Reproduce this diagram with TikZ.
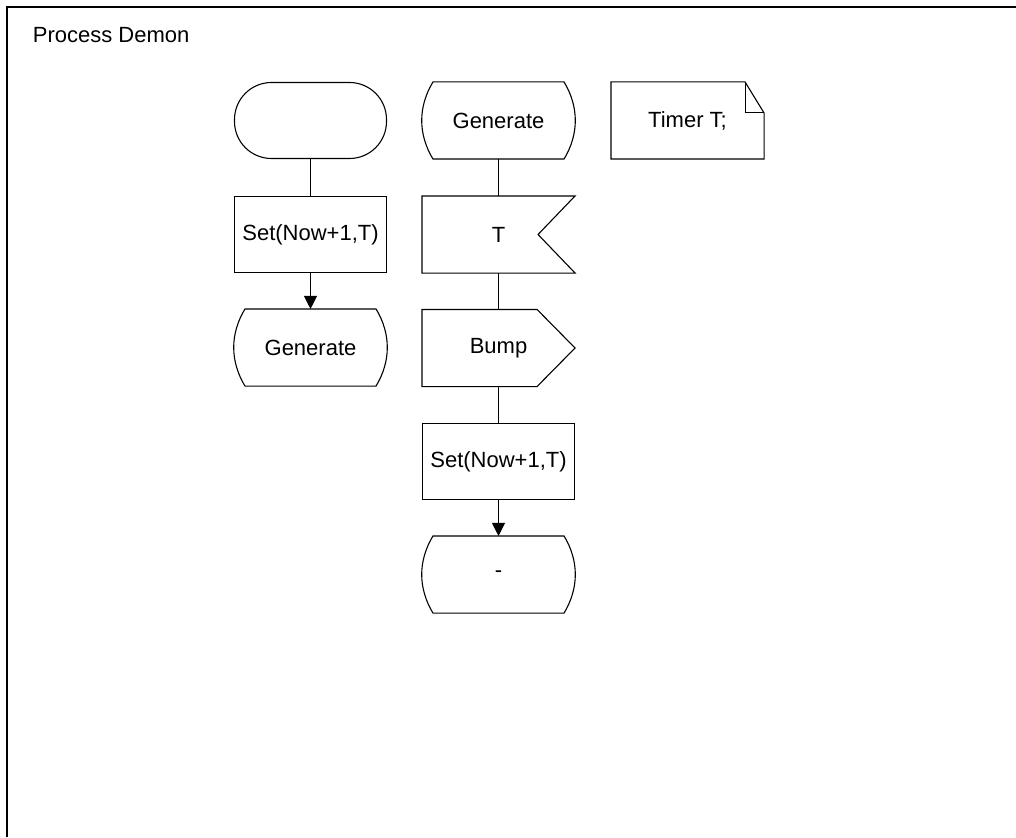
\documentclass[tikz,border=0pt]{standalone}
\usepackage{fontspec}
\setmainfont{Liberation Sans}
\usetikzlibrary{arrows.meta}

\begin{document}
\begin{tikzpicture}
[
x=1pt,y=-1pt,
line width=1.1pt,
every node/.style={font=\fontsize{22}{26}\selectfont},
sdlbox/.style={minimum width=152pt,minimum height=76pt,inner sep=0pt},
terminal/.style={sdlbox,draw,rounded corners=37pt},
task/.style={sdlbox,draw},
state/.style={sdlbox,append after command={\pgfextra{
   \draw ([xshift=11pt]\tikzlastnode.north west) -- ([xshift=-11pt]\tikzlastnode.north east)
     .. controls ([xshift=4pt,yshift=-25pt]\tikzlastnode.north east) and ([xshift=4pt,yshift=25pt]\tikzlastnode.south east) .. ([xshift=-11pt]\tikzlastnode.south east)
     -- ([xshift=11pt]\tikzlastnode.south west)
     .. controls ([xshift=-4pt,yshift=25pt]\tikzlastnode.south west) and ([xshift=-4pt,yshift=-25pt]\tikzlastnode.north west) .. cycle;}}},
insig/.style={sdlbox,append after command={\pgfextra{
   \draw (\tikzlastnode.north west) -- (\tikzlastnode.north east) -- ([xshift=-37pt]\tikzlastnode.east)
     -- (\tikzlastnode.south east) -- (\tikzlastnode.south west) -- cycle;}}},
outsig/.style={sdlbox,append after command={\pgfextra{
   \draw (\tikzlastnode.north west) -- ([xshift=-38pt]\tikzlastnode.north east) -- (\tikzlastnode.east)
     -- ([xshift=-38pt]\tikzlastnode.south east) -- (\tikzlastnode.south west) -- cycle;}}},
textsym/.style={sdlbox,append after command={\pgfextra{
   \draw (\tikzlastnode.north west) -- ([xshift=-19pt]\tikzlastnode.north east) -- ([yshift=-31pt]\tikzlastnode.north east)
     -- (\tikzlastnode.south east) -- (\tikzlastnode.south west) -- cycle;
   \draw ([xshift=-19pt]\tikzlastnode.north east) -- ([xshift=-19pt,yshift=-31pt]\tikzlastnode.north east)
     -- ([yshift=-31pt]\tikzlastnode.north east);}}},
flow/.style={-{Triangle[length=13pt,width=13pt]}},
]
\useasboundingbox (0,0) rectangle (1016,837);

%Frame and title
\draw (1016,7) -- (7,7) -- (7,837);
\node[anchor=base west] (title) at (29,43) {Process Demon};

%Start branch
\node[terminal] (start) at (310.5,120.5) {};
\node[task] (set1) at (310.5,234.5) {Set(Now+1,T)};
\node[state] (gen1) at (310.5,347.5) {Generate};

%Generate state
\node[state] (gen2) at (498.5,120.5) {Generate};
\node[textsym] (timer) at (687.5,120.5) {Timer T;};
\node[insig] (sigT) at (498.5,234.5) {T};
\node[outsig] (bump) at (498.5,348) {Bump};
\node[task] (set2) at (498.5,461.5) {Set(Now+1,T)};
\node[state] (dash) at (498.5,574.5) {-};

%Draw the connections
\draw (start) -- (set1);
\draw[flow] (set1) -- (gen1);
\draw (gen2) -- (sigT);
\draw (sigT) -- (bump);
\draw (bump) -- (set2);
\draw[flow] (set2) -- (dash);
\end{tikzpicture}
\end{document}
